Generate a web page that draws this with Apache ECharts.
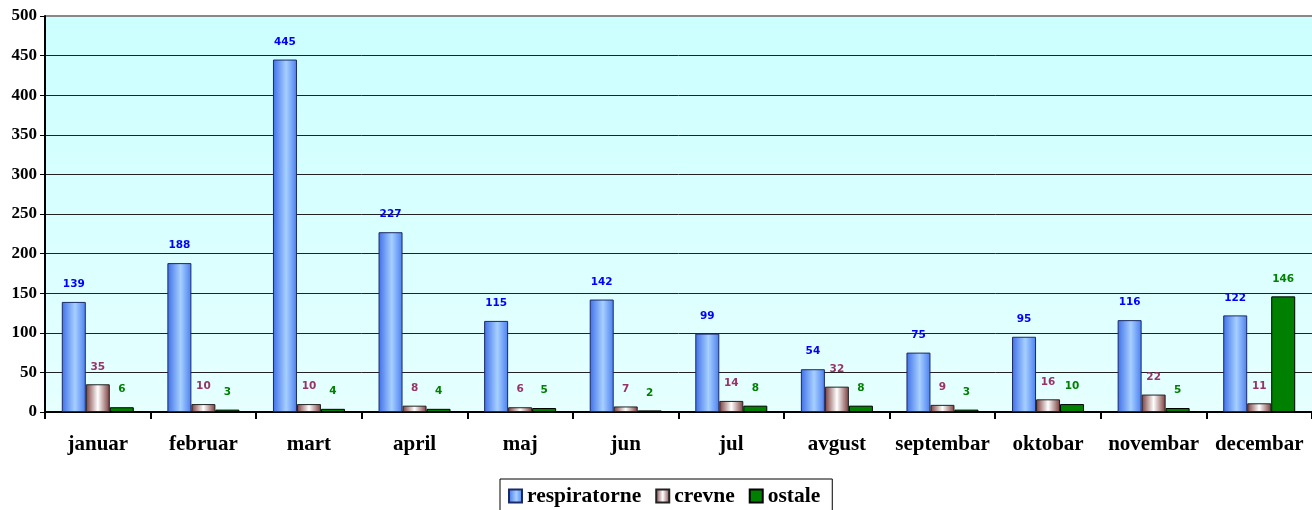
<!DOCTYPE html>
<html><head><meta charset="utf-8">
<script src="https://cdn.jsdelivr.net/npm/echarts@6/dist/echarts.min.js"></script>
<style>html,body{margin:0;padding:0;background:#fff}#c{width:1312px;height:510px}</style>
</head><body><div id="c"></div>
<script>
const categories = ['januar','februar','mart','april','maj','jun','jul','avgust','septembar','oktobar','novembar','decembar'];
const respiratorne = [139,188,445,227,115,142,99,54,75,95,116,122];
const crevne = [35,10,10,8,6,7,14,32,9,16,22,11];
const ostale = [6,3,4,4,5,2,8,8,3,10,5,146];
const yTicks = [0,50,100,150,200,250,300,350,400,450,500];

const chart = echarts.init(document.getElementById('c'));
const blueGrad = new echarts.graphic.LinearGradient(0,0,1,0,[
  {offset:0,color:'#3f6fe8'},{offset:0.55,color:'#a6d0ff'},{offset:1,color:'#4a7ef0'}]);
const redGrad = new echarts.graphic.LinearGradient(0,0,1,0,[
  {offset:0,color:'#7a3b3b'},{offset:0.5,color:'#ffffff'},{offset:1,color:'#7a3b3b'}]);
const labelBase = {show:true, position:'top', distance:12, fontFamily:'DejaVu Sans', fontWeight:'bold', fontSize:10.5};
chart.setOption({
  animation:false,
  grid:{left:45,right:0,top:16,bottom:98,show:true,borderWidth:0,
    backgroundColor:new echarts.graphic.LinearGradient(0,0,0,1,[{offset:0,color:'#ccffff'},{offset:1,color:'#e6ffff'}])},
  legend:{top:479,left:500,itemWidth:13,itemHeight:13,itemGap:14,borderColor:'#000',borderWidth:1,padding:[6,12,8,8],
    icon:'rect',
    textStyle:{fontFamily:'Liberation Serif',fontWeight:'bold',fontSize:21.5,color:'#000'},
    data:['respiratorne','crevne','ostale']},
  xAxis:{type:'category',data:categories,
    axisLine:{lineStyle:{color:'#000',width:2}},
    axisTick:{show:true,length:7,interval:0,lineStyle:{color:'#000',width:2}},
    axisLabel:{interval:0,fontFamily:'Liberation Serif',fontWeight:'bold',fontSize:21,color:'#000',margin:22}},
  yAxis:{type:'value',min:yTicks[0],max:yTicks[yTicks.length-1],interval:50,
    axisLine:{show:true,lineStyle:{color:'#000',width:2}},
    axisTick:{show:true,length:5,lineStyle:{color:'#000'}},
    splitLine:{lineStyle:{color:'#222',width:1}},
    axisLabel:{fontFamily:'Liberation Serif',fontWeight:'bold',fontSize:17,color:'#000',margin:8}},
  series:[
    {name:'respiratorne',type:'bar',data:respiratorne,barWidth:24,barGap:'0%',
     itemStyle:{color:blueGrad,borderColor:'#1a2a66',borderWidth:1},
     label:Object.assign({},labelBase,{color:'#0000ff'})},
    {name:'crevne',type:'bar',data:crevne,barWidth:24,barGap:'0%',
     itemStyle:{color:redGrad,borderColor:'#222',borderWidth:1},
     label:Object.assign({},labelBase,{color:'#993366'})},
    {name:'ostale',type:'bar',data:ostale,barWidth:24,barGap:'0%',
     itemStyle:{color:'#008000',borderColor:'#000',borderWidth:1},
     label:Object.assign({},labelBase,{color:'#008000'})}
  ]
});
chart.setOption({graphic:[{type:'line',shape:{x1:45,y1:16,x2:1312,y2:16},style:{stroke:'#888',lineWidth:2}}]});
</script></body></html>
